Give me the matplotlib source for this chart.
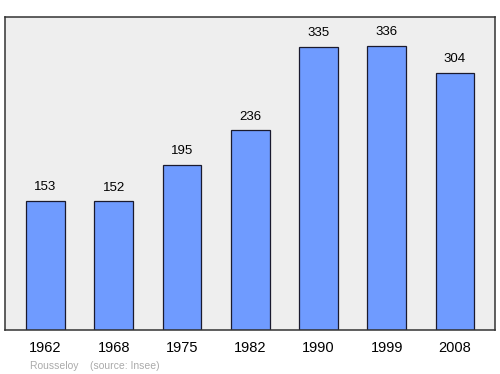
import matplotlib
matplotlib.use('Agg')
import matplotlib.pyplot as plt

# population data
years = ['1962', '1968', '1975', '1982', '1990', '1999', '2008']
population = [153, 152, 195, 236, 335, 336, 304]

plt.rcParams['font.family'] = ['Liberation Sans', 'DejaVu Sans']

fig = plt.figure(figsize=(5, 3.74), dpi=100)
ax = fig.add_axes([0.01, 0.1176, 0.98, 0.837])
ax.set_facecolor('#eeeeee')

x = range(len(years))
ax.bar(x, population, width=0.57, color='#6f9bff', edgecolor='#1a1a2e', linewidth=0.9)
for i, v in zip(x, population):
    ax.text(i, v + 9, str(v), ha='center', va='bottom', fontsize=9.5)

ax.set_xlim(-0.593, 6.586)
ax.set_ylim(0, 370)
ax.set_xticks(list(x))
ax.set_xticklabels(years, fontsize=10.5)
ax.tick_params(axis='x', length=0, pad=8)
ax.set_yticks([])
for s in ax.spines.values():
    s.set_color('#333333')
    s.set_linewidth(1.1)

fig.text(0.06, 0.013, 'Rousseloy    (source: Insee)', fontsize=7.5, color='#aaaaaa')

fig.savefig('out.png', dpi=100)
